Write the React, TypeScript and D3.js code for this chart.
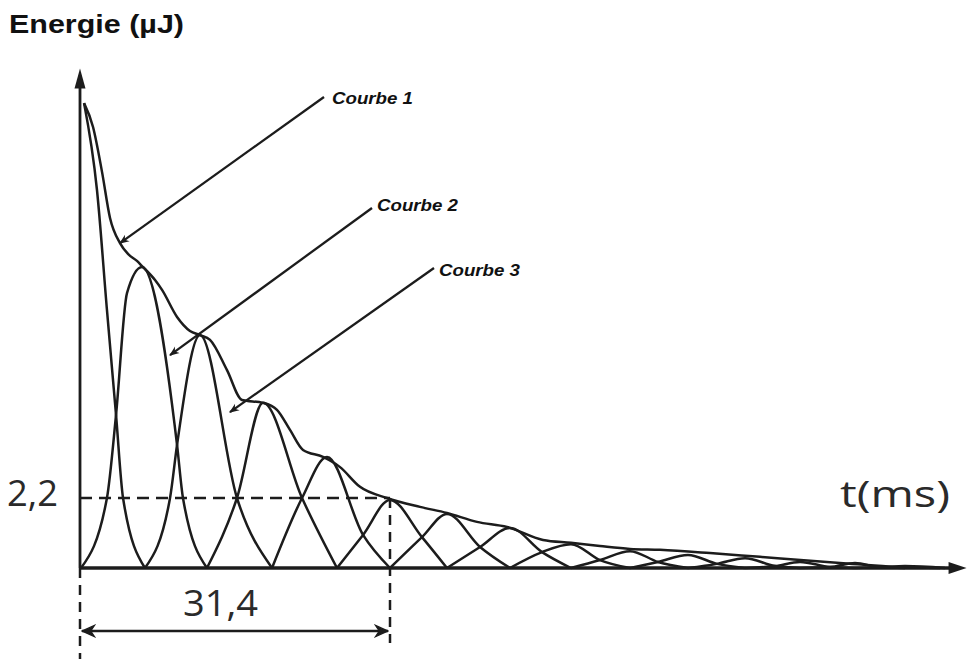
import React from "react";
import * as d3 from "d3";

// Courbe 1 : énergie totale (t en ms, E en µJ)
const curve1: [number, number][] = [
  [0.41, 14.61], [1.32, 13.86], [2.23, 12.45], [3.04, 11.0], [4.05, 10.21],
  [4.86, 9.87], [5.77, 9.65], [6.28, 9.49], [7.6, 9.05], [8.31, 8.74],
  [9.83, 7.89], [11.14, 7.45], [12.15, 7.32], [13.17, 7.17], [14.89, 6.22],
  [16.41, 5.28], [18.54, 5.19], [19.95, 4.97], [21.27, 4.34], [22.59, 3.71],
  [24.61, 3.49], [26.34, 3.17], [28.36, 2.55], [31.1, 2.2], [34.44, 1.92],
  [37.17, 1.73], [40.21, 1.45], [43.25, 1.29], [46.9, 0.88], [49.73, 0.79],
  [52.67, 0.69], [55.71, 0.6], [58.75, 0.57], [63.81, 0.47], [68.88, 0.35],
  [76.98, 0.16], [83.06, 0.03], [87.11, 0],
];

// Courbe 2 : énergie électrique (commence au maximum)
const curve2: [number, number][] = [
  [0.41, 14.61], [1.72, 11.88], [2.73, 8.11], [3.65, 4.81], [4.36, 2.2], [6.58, 0],
  [9.12, 2.2], [9.83, 3.87], [12.15, 7.32], [15.9, 2.2], [19.45, 0],
  [22.49, 2.2], [25.02, 3.49], [28.67, 1.04], [31.4, 0],
  [34.64, 0.97], [37.17, 1.7], [40.52, 0.66], [43.55, 0],
  [46.8, 0.5], [49.73, 0.75], [52.67, 0.25], [55.71, 0],
  [58.55, 0.19], [61.58, 0.41], [64.52, 0.13], [67.36, 0],
  [70.4, 0.06], [72.93, 0.19], [75.97, 0.03], [78.5, 0],
  [81.03, 0.02], [83.56, 0.06], [87.62, 0],
];

// Courbe 3 : énergie magnétique (commence à zéro)
const curve3: [number, number][] = [
  [0.1, 0], [2.73, 2.2], [3.65, 4.81], [4.76, 8.64], [6.28, 9.46], [9.83, 3.87], [10.43, 2.2], [12.86, 0],
  [15.9, 2.2], [18.54, 5.19], [22.49, 2.2], [26.03, 0],
  [28.67, 1.04], [31.4, 2.14], [34.64, 0.97], [37.17, 0],
  [40.52, 0.66], [43.55, 1.26], [46.8, 0.5], [49.73, 0],
  [52.67, 0.25], [55.71, 0.53], [58.55, 0.19], [61.58, 0],
  [64.52, 0.13], [67.36, 0.31], [70.4, 0.06], [72.93, 0],
  [75.97, 0.03], [78.5, 0.16], [81.03, 0.02], [83.56, 0],
];

const curveLabels = ["Courbe 1", "Courbe 2", "Courbe 3"];
// points visés par les flèches des étiquettes (t, E)
const labelTargets: [number, number][] = [[4.05, 10.21], [9.12, 6.69], [15.19, 4.9]];

const yMarkValue = 2.2;
const yMarkLabel = "2,2";
const xMarkValue = 31.4;
const xMarkLabel = "31,4";
const xAxisMax = 89.8;
const yAxisMax = 15.7;
const yTitle = "Energie (µJ)";
const xTitle = "t(ms)";

const W = 969;
const H = 659;
const INK = "#1c1c1c";

const x = d3.scaleLinear().domain([0, xMarkValue]).range([80, 390]);
const y = d3.scaleLinear().domain([0, yMarkValue]).range([568, 498]);

function splitAtZeros(pts: [number, number][]) {
  const segs: [number, number][][] = [];
  let cur: [number, number][] = [];
  pts.forEach((p) => {
    cur.push(p);
    if (p[1] === 0 && cur.length > 1) {
      segs.push(cur);
      cur = [p];
    }
  });
  if (cur.length > 1) segs.push(cur);
  return segs;
}

const line = d3
  .line<[number, number]>()
  .x((d) => x(d[0]))
  .y((d) => y(d[1]))
  .curve(d3.curveMonotoneX);

const labelAnchors = [
  { x: 332, y: 104, lx: 324, ly: 97 },
  { x: 377, y: 211, lx: 372, ly: 208 },
  { x: 439, y: 276, lx: 434, ly: 268 },
];

export default function App() {
  const x0 = x(0);
  const y0 = y(0);
  return (
    <svg
      width={W}
      height={H}
      viewBox={`0 0 ${W} ${H}`}
      style={{ position: "absolute", left: 0, top: 0, background: "#fff" }}
    >
      <defs>
        <marker id="lead" viewBox="0 0 10 10" refX="9" refY="5" markerWidth="10" markerHeight="10" orient="auto" markerUnits="userSpaceOnUse">
          <path d="M0,1 L10,5 L0,9 L3,5 Z" fill={INK} />
        </marker>
        <marker id="chev" viewBox="0 0 12 12" refX="11" refY="6" markerWidth="15" markerHeight="15" orient="auto-start-reverse" markerUnits="userSpaceOnUse">
          <path d="M1,1.5 L11,6 L1,10.5 L4,6 Z" fill={INK} stroke={INK} strokeWidth="1" />
        </marker>
      </defs>
      <rect x={0} y={0} width={W} height={H} fill="#fff" />

      {/* titre */}
      <text x={9} y={33} fontFamily="Liberation Sans, Arial, sans-serif" fontWeight="bold" fontSize={26} textLength={175} lengthAdjust="spacingAndGlyphs" fill="#111">
        {yTitle}
      </text>

      {/* axes */}
      <line x1={x0} y1={y0} x2={x0} y2={y(yAxisMax) + 14} stroke={INK} strokeWidth={2.8} />
      <path d={`M${x0},${y(yAxisMax)} L${x0 - 5.5},${y(yAxisMax) + 20} L${x0 + 5.5},${y(yAxisMax) + 20} Z`} fill={INK} />
      <line x1={x0} y1={y0} x2={x(xAxisMax) - 14} y2={y0} stroke={INK} strokeWidth={3.4} />
      <path d={`M${x(xAxisMax)},${y0} L${x(xAxisMax) - 18},${y0 - 6} L${x(xAxisMax) - 18},${y0 + 6} Z`} fill={INK} />

      {/* repères pointillés */}
      <line x1={x0} y1={y(yMarkValue)} x2={x(xMarkValue)} y2={y(yMarkValue)} stroke={INK} strokeWidth={2.5} strokeDasharray="12 7" />
      <line x1={x(xMarkValue)} y1={y(yMarkValue)} x2={x(xMarkValue)} y2={643} stroke={INK} strokeWidth={2.5} strokeDasharray="10 7" />
      <line x1={x0} y1={y0} x2={x0} y2={H} stroke={INK} strokeWidth={2.5} strokeDasharray="10 7" />
      <line x1={x0 + 2} y1={631} x2={x(xMarkValue) - 2} y2={631} stroke={INK} strokeWidth={2.5} markerStart="url(#chev)" markerEnd="url(#chev)" />

      {/* courbes */}
      <g fill="none" stroke={INK} strokeWidth={2.5} strokeLinejoin="round">
        <path d={line(curve1) || ""} />
        {splitAtZeros(curve2).map((s, i) => (
          <path key={"c2" + i} d={line(s) || ""} />
        ))}
        {splitAtZeros(curve3).map((s, i) => (
          <path key={"c3" + i} d={line(s) || ""} />
        ))}
      </g>

      {/* étiquettes */}
      {curveLabels.map((lab, i) => (
        <g key={lab}>
          <line
            x1={labelAnchors[i].lx}
            y1={labelAnchors[i].ly}
            x2={x(labelTargets[i][0])}
            y2={y(labelTargets[i][1])}
            stroke={INK}
            strokeWidth={2.3}
            markerEnd="url(#lead)"
          />
          <text
            x={labelAnchors[i].x}
            y={labelAnchors[i].y}
            fontFamily="Liberation Sans, Arial, sans-serif"
            fontWeight="bold"
            fontStyle="italic"
            fontSize={17}
            textLength={81}
            lengthAdjust="spacingAndGlyphs"
            fill="#111"
          >
            {lab}
          </text>
        </g>
      ))}

      {/* valeurs */}
      <text x={7} y={506} fontFamily="Open Sans, sans-serif" fontSize={36} fill="#2a2a2a" textLength={51} lengthAdjust="spacingAndGlyphs">
        {yMarkLabel}
      </text>
      <text x={183} y={616} fontFamily="Open Sans, sans-serif" fontSize={36} fill="#2a2a2a" textLength={75} lengthAdjust="spacingAndGlyphs">
        {xMarkLabel}
      </text>
      <text x={840} y={507} fontFamily="Open Sans, sans-serif" fontSize={36} fill="#2a2a2a" textLength={110} lengthAdjust="spacingAndGlyphs">
        {xTitle}
      </text>
    </svg>
  );
}
